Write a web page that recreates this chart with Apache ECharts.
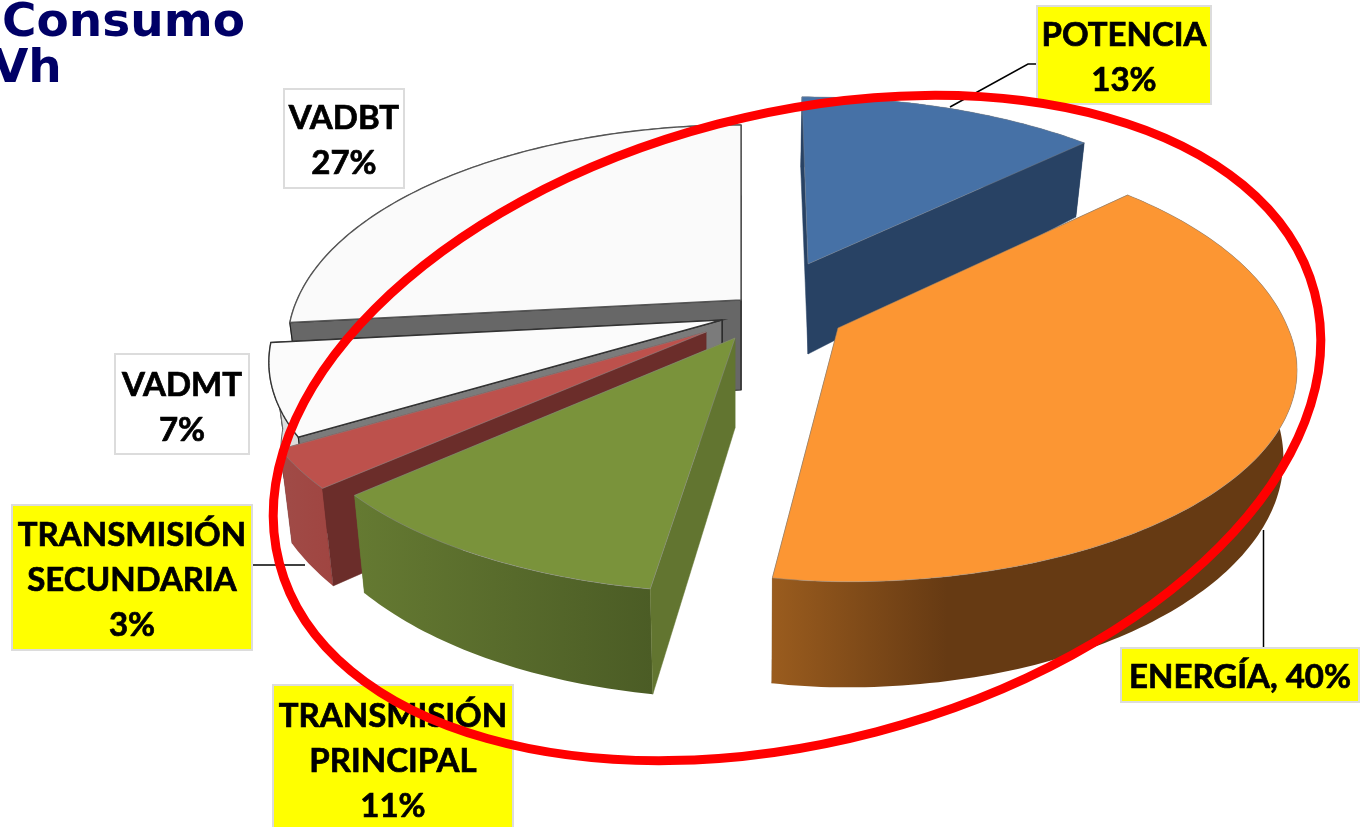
<!DOCTYPE html>
<html><head><meta charset="utf-8">
<style>html,body{margin:0;padding:0;background:#fff;overflow:hidden}#c{width:1367px;height:827px}</style>
<script src="https://cdn.jsdelivr.net/npm/echarts@6/dist/echarts.min.js"></script>
</head><body><div id="c"></div>
<script>
const categories = ['POTENCIA','ENERGÍA','TRANSMISIÓN PRINCIPAL','TRANSMISIÓN SECUNDARIA','VADMT','VADBT'];
const shares = [13,40,11,3,7,27];
const labelTexts = ['POTENCIA\n13%','ENERGÍA, 40%','TRANSMISIÓN\nPRINCIPAL\n11%','TRANSMISIÓN\nSECUNDARIA\n3%','VADMT\n7%','VADBT\n27%'];

// layout / style of each slice
const RY=203, RX=444, K=0.2, DEPTH=84.5, APEX_DEPTH=90, CONVERGE=0.025, CONVERGE_X=750;
const sliceLayout = [
 {apex:[808,264],arc:[802,266],rx:RX,back:1,left:1,top:'#4671a6',face:'#284264',wall:['#284264','#284264'],edge:'rgba(140,140,140,.5)'},
 {apex:[838,328],arc:[848,328],rx:440,back:1.08,left:0.89,top:'#fc9633',face:'#7a4a18',wall:['#9a5c1e','#663a13','#663a13','#663a13'],edge:'rgba(140,140,140,.6)'},
 {apex:[735,338],arc:[736,339],rx:RX,back:1,left:1,top:'#7a933b',face:'#627530',wall:['#657a32','#4b5c25'],edge:'rgba(140,140,140,.7)'},
 {apex:[706,332],arc:[704,332],rx:RX,back:1,left:1,top:'#bd514c',face:'#6b2d2a',wall:['#a04b47','#a04541'],edge:'rgba(140,140,140,.7)'},
 {apex:[722,320],arc:[722,320],rx:RX,back:1,left:1,top:'#fbfbfb',face:'#7b7b7b',wall:['#e2e2e2','#d8d8d8'],edge:'#333'},
 {apex:[741,300],arc:[741,300],rx:RX,back:1.035,left:1,top:'#fafafa',face:'#676767',wall:['#e5e5e5','#e5e5e5'],edge:'#555'}
];
const drawOrder = [5,0,4,3,2,1];
const labelBoxes = [[1037,6,174,98],[1121,648,238,54],[273,685,240,150],[12,505,240,145],[115,354,134,100],[284,89,120,99]];
const labelFills = ['#ffff00','#ffff00','#ffff00','#ffff00','#ffffff','#ffffff'];
const labelCentreY = [58,677,761,580,408,141];
const leaders = [[[950,107],[1028,64],[1037,64]],[[1263.5,530],[1263.5,648]],[[305,565],[253,565]]];

const total = shares.reduce((a,b)=>a+b,0);
const starts = []; shares.reduce((acc,v,i)=>{starts[i]=acc;return acc+v;},0);

function project(s,deg){
  const t=deg*Math.PI/180, u=Math.sin(t), v=-Math.cos(t), p=1/(1-K*v);
  const x=s.arc[0]+s.rx*u*p*(u<0?s.left:1), y=s.arc[1]+RY*v*p*(v<0?s.back:1);
  return {x:x, y:y, bx:x+(CONVERGE_X-x)*CONVERGE, by:y+DEPTH*p};
}
function renderSlice(params,api){
  const i=api.value(0), s=sliceLayout[i];
  const a0=api.value(2)/total*360, a1=(api.value(2)+api.value(1))/total*360;
  const arc=[]; const n=Math.max(4,Math.ceil((a1-a0)));
  for(let k=0;k<=n;k++) arc.push(project(s,a0+(a1-a0)*k/n));
  const A=s.apex, first=arc[0], last=arc[n];
  const quad=(q)=>[[A[0],A[1]],[q.x,q.y],[q.bx,q.by],[A[0],A[1]+APEX_DEPTH]];
  const wallPts=arc.map(q=>[q.x,q.y]).concat(arc.slice().reverse().map(q=>[q.bx,q.by]));
  const stops=s.wall.map((c,j)=>({offset:j/(s.wall.length-1),color:c}));
  const white=i>=4;
  return {type:'group',children:[
    {type:'polygon',shape:{points:quad(last)},style:{fill:s.face,stroke:white?'#222':s.face,lineWidth:white?1.2:0.5}},
    {type:'polygon',shape:{points:wallPts},style:{
      fill:new echarts.graphic.LinearGradient(0,0,1,0,stops),stroke:white?'#666':null,lineWidth:white?1:0}},
    {type:'polygon',shape:{points:quad(first)},style:{fill:s.face,stroke:white?'#222':s.face,lineWidth:white?1.2:0.5}},
    {type:'polygon',shape:{points:[[A[0],A[1]]].concat(arc.map(q=>[q.x,q.y]))},
      style:{fill:s.top,stroke:s.edge,lineWidth:white?1.4:0.8}}
  ]};
}
function renderLabel(params,api){
  const i=api.value(0), b=labelBoxes[i];
  return {type:'group',children:[
    {type:'rect',shape:{x:b[0],y:b[1],width:b[2],height:b[3]},style:{fill:labelFills[i],stroke:'#dcdcdc',lineWidth:2}},
    {type:'text',x:b[0]+b[2]/2,y:labelCentreY[i],style:{text:labelTexts[i],fill:'#000',stroke:'#000',lineWidth:0.7,
      font:'700 33px Lato, "Open Sans", sans-serif',lineHeight:45,textAlign:'center',textVerticalAlign:'middle'}}
  ]};
}
const chart=echarts.init(document.getElementById('c'),null,{renderer:'canvas',width:1367,height:827});
chart.setOption({
  animation:false,
  backgroundColor:'#fff',
  series:[
    {type:'custom',coordinateSystem:'none',silent:true,z:2,renderItem:renderSlice,
     data:drawOrder.map(i=>[i,shares[i],starts[i]])},
    {type:'custom',coordinateSystem:'none',silent:true,z:1,renderItem:(p,api)=>({type:'polyline',
       shape:{points:leaders[api.value(0)]},style:{fill:'none',stroke:'#000',lineWidth:1.5}}),
     data:leaders.map((_,i)=>[i])},
    {type:'custom',coordinateSystem:'none',silent:true,z:3,renderItem:renderLabel,
     data:categories.map((_,i)=>[i])},
    {type:'custom',coordinateSystem:'none',silent:true,z:4,renderItem:()=>({type:'ellipse',
       x:797,y:428,rotation:0.2557,shape:{cx:0,cy:0,rx:535,ry:314},
       style:{fill:'none',stroke:'#ff0000',lineWidth:9}}),data:[[0]]}
  ],
  graphic:[
    {type:'text',x:2,y:0,z:5,style:{text:'Consumo',fill:'#000066',font:'700 47px "DejaVu Sans"'}},
    {type:'text',x:-8,y:46,z:5,style:{text:'Vh',fill:'#000066',font:'700 47px "DejaVu Sans"'}}
  ]
});
</script></body></html>
